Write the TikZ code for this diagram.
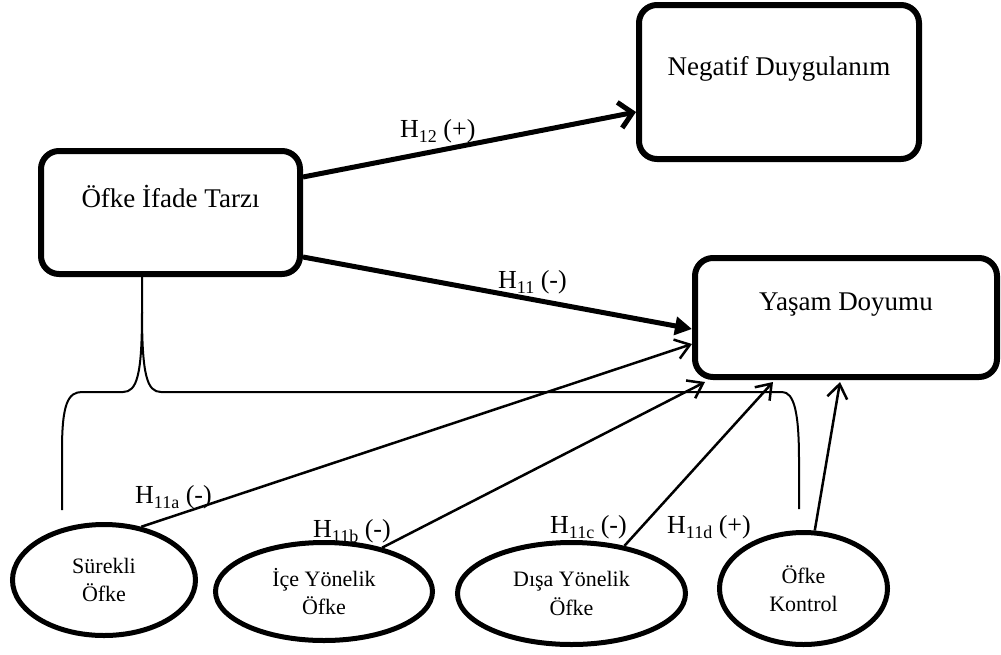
\documentclass[tikz,border=0pt]{standalone}
\usepackage{fontspec}
\setmainfont{Liberation Serif}
\usetikzlibrary{arrows.meta,shapes.geometric}
\newcommand{\hyplabel}[2]{H\raisebox{-5pt}{\fontsize{18}{18}\selectfont #1} #2}
\tikzset{
  boxnode/.style={draw, line width=6pt, rounded corners=18pt, align=center, inner sep=0pt,
    font=\fontsize{27}{32}\selectfont, text height=18pt},
  ellnode/.style={draw, ellipse, line width=5pt, align=center, inner sep=0pt,
    font=\fontsize{22}{28.5}\selectfont},
  hlabel/.style={anchor=base west, inner sep=0pt, font=\fontsize{26}{30}\selectfont},
  boldbarb/.style={line width=5pt, -{Straight Barb[length=13pt,width=26pt]}},
  boldtri/.style={line width=5pt, -{Triangle[length=17pt,width=18pt]}},
  thinarrow/.style={line width=2.5pt, -{Straight Barb[length=14pt,width=20pt]}},
  bracket/.style={line width=2pt}
}
\begin{document}
\begin{tikzpicture}[x=1pt,y=-1pt]
\useasboundingbox (0,0) rectangle (1001,654);
% boxes
\node[boxnode, minimum width=259pt, minimum height=123pt, text depth=29pt] (ofke) at (170.5,212.5) {Öfke İfade Tarzı};
\node[boxnode, minimum width=280pt, minimum height=154pt, text depth=32pt] (neg) at (779,82) {Negatif Duygulanım};
\node[boxnode, minimum width=302pt, minimum height=119pt, text depth=33pt] (yas) at (846,317.5) {Yaşam Doyumu};
% ellipses
\node[ellnode, minimum width=183pt, minimum height=111pt] (sur) at (104,580) {Sürekli\\Öfke};
\node[ellnode, minimum width=217pt, minimum height=98pt] (ice) at (324,591.5) {İçe Yönelik\\Öfke};
\node[ellnode, minimum width=228pt, minimum height=102pt] (disa) at (571.5,593.5) {Dışa Yönelik\\Öfke};
\node[ellnode, minimum width=168pt, minimum height=112pt] (kon) at (803.5,588.5) {Öfke\\Kontrol};
% main arrows
\draw[boldbarb] ([yshift=35.5pt]ofke.east) -- ([yshift=-30pt]neg.west);
\draw[boldtri] ([yshift=-44.5pt]ofke.east) -- ([yshift=-11.5pt]yas.west);
% bracket
\coordinate (bl) at (62,510);
\coordinate (br) at (799,509);
\draw[bracket] (bl) -- (62,450) .. controls (62,404) and (68,392) .. (82,392) -- (123,392)
  .. controls (137,392) and (142,375) .. (142,312) -- ([xshift=-28.5pt]ofke.south);
\draw[bracket] (142,312) .. controls (142,375) and (147,392) .. (161,392) -- (782,392)
  .. controls (794,392) and (799,412) .. (799,460) -- (br);
% sub arrows
\draw[thinarrow] (sur.55) -- ([yshift=-26.5pt]yas.west);
\draw[thinarrow] (ice.37) -- ([xshift=13pt,yshift=-2pt]yas.south west);
\draw[thinarrow] (disa.42) -- ([xshift=81pt,yshift=-2pt]yas.south west);
\draw[thinarrow] (kon.79) -- ([xshift=148pt,yshift=-2pt]yas.south west);
% labels
\node[hlabel] (l12) at (400,137) {\hyplabel{12}{(+)}};
\node[hlabel] (l11) at (498,288) {\hyplabel{11}{(-)}};
\node[hlabel] (l11a) at (135,503) {\hyplabel{11a}{(-)}};
\node[hlabel] (l11b) at (313,537) {\hyplabel{11b}{(-)}};
\node[hlabel] (l11c) at (550,533) {\hyplabel{11c}{(-)}};
\node[hlabel] (l11d) at (667,533) {\hyplabel{11d}{(+)}};
\end{tikzpicture}
\end{document}
